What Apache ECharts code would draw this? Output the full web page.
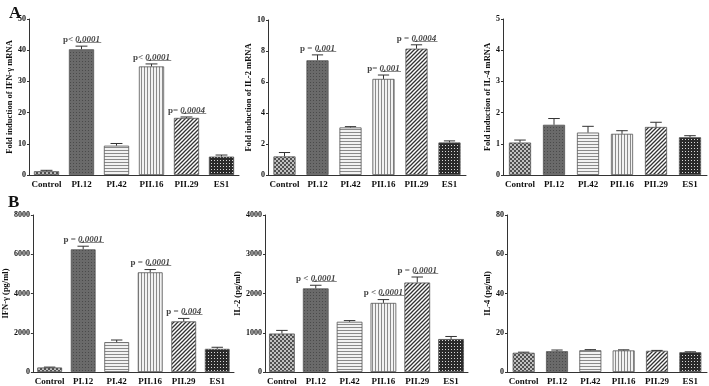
<!DOCTYPE html>
<html>
<head>
<meta charset="utf-8">
<script src="https://cdn.jsdelivr.net/npm/echarts@6/dist/echarts.min.js"></script>
<style>
  html, body { margin: 0; padding: 0; background: #fff; }
  #chart { width: 709px; height: 386px; }
</style>
</head>
<body>
<div id="chart"></div>
<script>
// data
const categories = ['Control', 'PI.12', 'PI.42', 'PII.16', 'PII.29', 'ES1'];

const ifnMrna = [1.2, 40.3, 9.4, 34.8, 18.3, 5.9];
const ifnMrnaSem = [0.3, 1.0, 0.7, 0.8, 0.3, 0.5];
const il2Mrna = [1.2, 7.4, 3.07, 6.2, 8.15, 2.1];
const il2MrnaSem = [0.25, 0.35, 0.05, 0.25, 0.25, 0.1];
const il4Mrna = [1.04, 1.61, 1.36, 1.32, 1.54, 1.21];
const il4MrnaSem = [0.08, 0.2, 0.2, 0.1, 0.15, 0.05];

const ifnProt = [230, 6250, 1520, 5080, 2580, 1180];
const ifnProtSem = [20, 160, 110, 140, 150, 80];
const il2Prot = [980, 2130, 1280, 1760, 2280, 840];
const il2ProtSem = [80, 80, 30, 85, 140, 65];
const il4Prot = [9.8, 10.6, 11.1, 11.0, 10.8, 10.1];
const il4ProtSem = [0.3, 0.6, 0.3, 0.3, 0.2, 0.2];

// p-value notes: [prefix, number] per category
const ifnMrnaP = [null, ['p< ', '0.0001'], null, ['p< ', '0.0001'], ['p= ', '0.0004'], null];
const il2MrnaP = [null, ['p = ', '0.001'], null, ['p= ', '0.001'], ['p = ', '0.0004'], null];
const il4MrnaP = [null, null, null, null, null, null];
const ifnProtP = [null, ['p = ', '0.0001'], null, ['p = ', '0.0001'], ['p = ', '0.004'], null];
const il2ProtP = [null, ['p < ', '0.0001'], null, ['p < ', '0.0001'], ['p = ', '0.0001'], null];
const il4ProtP = [null, null, null, null, null, null];

const FONT = 'Liberation Serif';

const makePattern = (w, h, draw) => {
  const c = document.createElement('canvas');
  c.width = w;
  c.height = h;
  draw(c.getContext('2d'), w, h);
  return { image: c, repeat: 'repeat' };
};

// one fill per group, like the figure
const patterns = [
  makePattern(4, 4, (ctx) => {
    ctx.fillStyle = '#c0c0c0';
    ctx.fillRect(0, 0, 4, 4);
    ctx.fillStyle = '#505050';
    ctx.fillRect(0, 0, 2, 2);
    ctx.fillRect(2, 2, 2, 2);
  }),
  makePattern(3, 3, (ctx) => {
    ctx.fillStyle = '#6a6a6a';
    ctx.fillRect(0, 0, 3, 3);
    ctx.fillStyle = '#4a4a4a';
    ctx.fillRect(1, 1, 1, 1);
  }),
  makePattern(1, 3, (ctx) => {
    ctx.fillStyle = '#f2f2f2';
    ctx.fillRect(0, 0, 1, 3);
    ctx.fillStyle = '#8a8a8a';
    ctx.fillRect(0, 0, 1, 1);
  }),
  makePattern(3, 1, (ctx) => {
    ctx.fillStyle = '#f2f2f2';
    ctx.fillRect(0, 0, 3, 1);
    ctx.fillStyle = '#8a8a8a';
    ctx.fillRect(0, 0, 1, 1);
  }),
  makePattern(4, 4, (ctx) => {
    ctx.fillStyle = '#fff';
    ctx.fillRect(0, 0, 4, 4);
    ctx.strokeStyle = '#333';
    ctx.lineWidth = 1.3;
    ctx.beginPath();
    ctx.moveTo(-1, 5); ctx.lineTo(5, -1);
    ctx.moveTo(-1, 1); ctx.lineTo(1, -1);
    ctx.moveTo(3, 5); ctx.lineTo(5, 3);
    ctx.stroke();
  }),
  makePattern(3, 3, (ctx) => {
    ctx.fillStyle = '#2a2a2a';
    ctx.fillRect(0, 0, 3, 3);
    ctx.fillStyle = '#d8d8d8';
    ctx.fillRect(1, 1, 1, 1);
  }),
];

const panels = [
  { grid: { left: 29, right: 470, top: 19, bottom: 211 }, max: 50, interval: 10,
    name: 'Fold induction of IFN-γ mRNA', nameGap: 12, mean: ifnMrna, sem: ifnMrnaSem, p: ifnMrnaP, barWidth: '72%' },
  { grid: { left: 268, right: 243, top: 20, bottom: 211 }, max: 10, interval: 2,
    name: 'Fold induction of IL-2 mRNA', nameGap: 10, mean: il2Mrna, sem: il2MrnaSem, p: il2MrnaP, barWidth: '67%' },
  { grid: { left: 503, right: 2, top: 19, bottom: 211 }, max: 5, interval: 1,
    name: 'Fold induction of IL-4 mRNA', nameGap: 7, mean: il4Mrna, sem: il4MrnaSem, p: il4MrnaP, barWidth: '65%' },
  { grid: { left: 29, right: 475, top: 215, bottom: 13 }, max: 8000, interval: 2000,
    name: 'IFN-γ (pg/ml)', nameGap: 17, mean: ifnProt, sem: ifnProtSem, p: ifnProtP, barWidth: '74%' },
  { grid: { left: 265, right: 241, top: 215, bottom: 13 }, max: 4000, interval: 1000,
    name: 'IL-2 (pg/ml)', nameGap: 17, mean: il2Prot, sem: il2ProtSem, p: il2ProtP, barWidth: '76%' },
  { grid: { left: 507, right: 2, top: 215, bottom: 14 }, max: 80, interval: 20,
    name: 'IL-4 (pg/ml)', nameGap: 10, mean: il4Prot, sem: il4ProtSem, p: il4ProtP, barWidth: '66%' },
];

const underline = (s) => s.split('').map((ch) => ch + '\u0332').join('');

const grid = [];
const xAxis = [];
const yAxis = [];
const series = [];

panels.forEach((pn, k) => {
  grid.push(pn.grid);
  xAxis.push({
    type: 'category',
    gridIndex: k,
    data: categories,
    axisLine: { lineStyle: { color: '#333', width: 1 } },
    axisTick: { show: false },
    axisLabel: { color: '#111', fontFamily: FONT, fontWeight: 'bold', fontSize: 9, margin: 5, interval: 0 },
  });
  yAxis.push({
    type: 'value',
    gridIndex: k,
    min: 0,
    max: pn.max,
    interval: pn.interval,
    name: pn.name,
    nameLocation: 'middle',
    nameGap: pn.nameGap,
    nameTextStyle: { color: '#111', fontFamily: FONT, fontWeight: 'bold', fontSize: 8.5 },
    splitLine: { show: false },
    axisLine: { show: true, lineStyle: { color: '#333', width: 1 } },
    axisTick: { show: true, length: 2, lineStyle: { color: '#333' } },
    axisLabel: {
      color: '#111', fontFamily: FONT, fontWeight: 'bold', fontSize: 8, margin: 3,
      formatter: (v) => String(v),
    },
  });

  series.push({
    type: 'bar',
    xAxisIndex: k,
    yAxisIndex: k,
    barWidth: pn.barWidth,
    data: pn.mean.map((v, i) => ({
      value: v,
      itemStyle: { color: patterns[i], borderColor: '#555', borderWidth: 0.8 },
    })),
    animation: false,
  });

  series.push({
    type: 'custom',
    xAxisIndex: k,
    yAxisIndex: k,
    data: pn.mean.map((v, i) => [i, v, v + pn.sem[i]]),
    encode: { x: 0, y: [1, 2] },
    renderItem: (params, api) => {
      const base = api.coord([api.value(0), api.value(1)]);
      const top = api.coord([api.value(0), api.value(2)]);
      const half = api.size([1, 0])[0] * 0.17;
      const st = { stroke: '#333', lineWidth: 1 };
      return {
        type: 'group',
        children: [
          { type: 'line', shape: { x1: base[0], y1: base[1], x2: top[0], y2: top[1] }, style: st },
          { type: 'line', shape: { x1: top[0] - half, y1: top[1], x2: top[0] + half, y2: top[1] }, style: st },
        ],
      };
    },
    z: 3,
    animation: false,
  });

  const notes = [];
  pn.p.forEach((note, i) => {
    if (note) notes.push({ value: [i, pn.mean[i] + pn.sem[i]], pre: note[0], num: note[1] });
  });
  series.push({
    type: 'scatter',
    xAxisIndex: k,
    yAxisIndex: k,
    symbolSize: 0,
    data: notes,
    label: {
      show: true,
      position: 'top',
      distance: 2,
      formatter: (params) => '{a|' + params.data.pre + '}{b|' + underline(params.data.num) + '}',
      rich: {
        a: { fontFamily: FONT, fontWeight: 'bold', fontSize: 9, color: '#111' },
        b: { fontFamily: FONT, fontWeight: 'bold', fontStyle: 'italic', fontSize: 9, color: '#111' },
      },
    },
    silent: true,
    animation: false,
  });
});

const chart = echarts.init(document.getElementById('chart'));
chart.setOption({
  backgroundColor: '#fff',
  animation: false,
  title: [
    { text: 'A', left: 4, top: 0, textStyle: { fontFamily: FONT, fontWeight: 'bold', fontSize: 17, color: '#111' } },
    { text: 'B', left: 3, top: 189, textStyle: { fontFamily: FONT, fontWeight: 'bold', fontSize: 17, color: '#111' } },
  ],
  grid,
  xAxis,
  yAxis,
  series,
});
</script>
</body>
</html>
